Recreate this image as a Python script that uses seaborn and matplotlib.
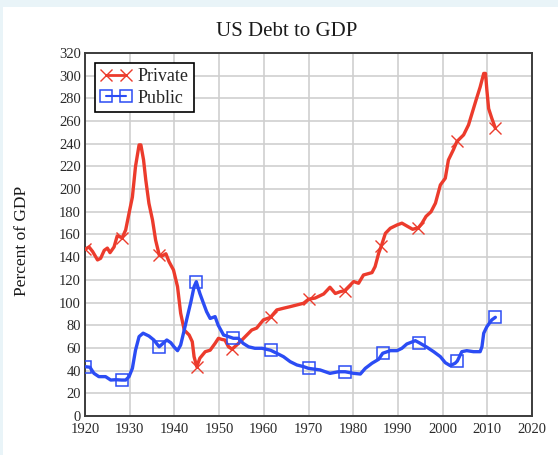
import numpy as np
import matplotlib
matplotlib.use("Agg")
import matplotlib.pyplot as plt
from matplotlib.lines import Line2D
from matplotlib.patches import Rectangle
import seaborn as sns

# ---------------- data ----------------
private_years = [1920, 1920.9, 1921.7, 1922.8, 1923.5, 1924.3, 1925, 1925.6, 1926.5, 1927.2,
                 1927.8, 1928.3, 1929.1, 1929.85, 1930.6, 1931.3, 1932.1, 1932.5, 1933.1, 1933.6,
                 1934.3, 1935.1, 1935.8, 1936.6, 1937.2, 1938.1, 1938.8, 1939.8, 1940.7, 1941.4,
                 1942.2, 1943.3, 1944, 1944.4, 1945, 1945.7, 1946.9, 1948, 1949.1, 1949.85,
                 1950.6, 1951.3, 1952.1, 1952.9, 1953.95, 1955.1, 1956.2, 1957.3, 1958.4, 1959.9,
                 1961.5, 1962.9, 1964.4, 1965.9, 1967.4, 1968.9, 1970, 1971.5, 1973.4, 1974.8,
                 1976, 1977.1, 1978.1, 1980.1, 1981.2, 1982.3, 1984.2, 1984.9, 1985.7, 1986.3,
                 1987.2, 1988.3, 1989.8, 1990.9, 1992, 1993.3, 1994.6, 1995.4, 1996.3, 1997.4,
                 1998.4, 1999.5, 2000.6, 2001.3, 2002.4, 2003.2, 2004.7, 2005.8, 2006.6, 2007.5,
                 2008.4, 2009.2, 2009.6, 2009.9, 2010.3, 2011, 2011.8]
private_values = [147, 149, 145, 137.6, 139, 146, 148, 144, 149, 158.7,
                  158, 157, 164, 178.7, 193, 220, 239, 239, 225.7, 208,
                  187.5, 172.8, 155, 142, 141, 143, 136, 128.7, 114, 90.6,
                  75.8, 71.4, 65.5, 52.3, 43.5, 51, 56.7, 58, 64, 68.5,
                  67.5, 67, 61, 59, 62.6, 67, 71.4, 75.8, 77.5, 84.7,
                  87.0, 93.5, 95, 96.4, 97.9, 99.4, 102.9, 104, 107.6, 113.5,
                  108, 109.6, 110.5, 118.5, 117, 124.3, 126.4, 131.7, 143.5, 150,
                  161, 165.5, 168.4, 170, 167.5, 164.6, 166, 170, 176, 180,
                  187.6, 203.7, 209.6, 225.7, 234.6, 242, 247.8, 256.6, 267, 278.7,
                  290, 302, 302, 287.5, 271, 262.5, 253.7]

public_years = [1920, 1921.1, 1922, 1923.1, 1924.6, 1925.75, 1926.9, 1928.2, 1929.1, 1929.85,
                1930.6, 1931.3, 1932.1, 1933, 1934.3, 1935.4, 1936.6, 1937.3, 1938.3, 1939.2,
                1939.9, 1940.7, 1941.4, 1942.2, 1942.9, 1943.7, 1944.4, 1944.9, 1945.7, 1946.5,
                1947.2, 1948, 1949.1, 1949.8, 1951, 1952.1, 1953.2, 1954.3, 1955.4, 1956.6,
                1958, 1959.6, 1961.5, 1962.9, 1964.4, 1965.9, 1967.4, 1968.9, 1970, 1972.6,
                1974.8, 1976.7, 1978.2, 1980.1, 1981.6, 1982.7, 1984.2, 1985.7, 1986.6, 1988.3,
                1989.8, 1990.9, 1992, 1993.9, 1994.8, 1996.5, 1998, 1999.5, 2000.6, 2001.7,
                2002.8, 2003.3, 2004.3, 2005.4, 2006.9, 2008.4, 2008.8, 2009.2, 2009.9, 2011,
                2011.8]
public_values = [43.5, 43, 37.6, 34.7, 34.7, 31.7, 32, 31.7, 31.7, 34.7,
                 42, 58, 70, 73, 70.5, 67, 61, 63.5, 67, 64.6,
                 61, 57.6, 62.6, 75.8, 87.6, 100.8, 114, 118.4, 108, 99.4,
                 92, 86, 87.6, 80, 71.4, 70, 68.5, 68.5, 64, 61,
                 59.7, 59.7, 58, 55.3, 52.3, 47.9, 45, 43.5, 42, 40.6,
                 37.6, 39, 39, 37.6, 37, 42, 46.5, 50, 55.3, 57.6,
                 57.6, 59.7, 63.5, 66.4, 64.5, 60.6, 56.7, 52.3, 47, 44.4,
                 46.5, 48.5, 56.7, 57.6, 56.7, 56.7, 61, 73, 78.7, 84.7,
                 87]

series_labels = ["Private", "Public"]
x_ticks = list(range(1920, 2021, 10))
y_ticks = list(range(0, 321, 20))

# marker positions (years at which markers are drawn)
marker_years = [1920, 1928.2, 1936.6, 1945, 1953.1, 1961.5, 1970, 1978.2, 1986.4, 1994.7, 2003.2, 2011.8]

RED = "#ec3b2c"
BLUE = "#2b4cf4"

sns.set_theme(style="white")
plt.rcParams["font.family"] = ["Liberation Serif", "DejaVu Serif"]

fig = plt.figure(figsize=(5.58, 4.55), dpi=100)
fig.patch.set_facecolor("white")
# light frame strips of the reference screenshot
fig.patches.append(Rectangle((0, 1 - 7 / 455), 1, 7 / 455, transform=fig.transFigure,
                             facecolor="#e9f4f8", edgecolor="none", zorder=0))
fig.patches.append(Rectangle((0, 0), 3 / 558, 1, transform=fig.transFigure,
                             facecolor="#e9f4f8", edgecolor="none", zorder=0))

ax = fig.add_axes([85 / 558, (455 - 416) / 455, 447 / 558, 363 / 455])


def idx_for(years, targets):
    arr = np.asarray(years)
    return [int(np.argmin(np.abs(arr - t))) for t in targets]


sns.lineplot(x=private_years, y=private_values, ax=ax, color=RED, linewidth=2.4,
             marker="x", markersize=9, markeredgewidth=1.0, markeredgecolor=RED,
             markevery=idx_for(private_years, marker_years), sort=False,
             estimator=None, zorder=3)
sns.lineplot(x=public_years, y=public_values, ax=ax, color=BLUE, linewidth=2.4,
             marker="s", markersize=9, markeredgewidth=1.1, markeredgecolor=BLUE,
             markerfacecolor="none", fillstyle="none",
             markevery=idx_for(public_years, marker_years), sort=False,
             estimator=None, zorder=3)

ax.set_xlim(1920, 2020)
ax.set_ylim(0, 320)
ax.set_xticks(x_ticks)
ax.set_yticks(y_ticks)
ax.set_xticklabels([str(t) for t in x_ticks])
ax.set_yticklabels([str(t) for t in y_ticks])
ax.tick_params(axis="both", length=0, labelsize=10.5, colors="#2a2a2a")
ax.tick_params(axis="x", pad=5)
ax.tick_params(axis="y", pad=3)
ax.grid(True, color="#cfcfcf", linewidth=1.2)
ax.set_axisbelow(True)
for s in ax.spines.values():
    s.set_visible(True)
    s.set_color("#3c3c3c")
    s.set_linewidth(1.4)
ax.set_xlabel("")
ax.set_ylabel("")

handles = [
    Line2D([0, 1], [0, 1], color=RED, linewidth=2.0, marker="x", markersize=9,
           markeredgewidth=1.0),
    Line2D([0, 1], [0, 1], color=BLUE, linewidth=1.5, marker="s", markersize=8,
           markeredgewidth=1.1, markerfacecolor="none"),
]
leg = ax.legend(handles, series_labels, loc="upper left", bbox_to_anchor=(0.022, 0.973),
                borderaxespad=0, frameon=True, fancybox=False, framealpha=1,
                edgecolor="black", fontsize=13, numpoints=2, handlelength=1.75,
                handletextpad=0.3, labelspacing=0.25, borderpad=0.3)
leg.get_frame().set_linewidth(1.2)

fig.text(287 / 558, 1 - 31 / 455, "US Debt to GDP", ha="center", va="center",
         fontsize=15, color="#1a1a1a")
fig.text(22 / 558, 1 - 241 / 455, "Percent of GDP", ha="center", va="center",
         rotation=90, fontsize=12.5, color="#1a1a1a")

fig.savefig("out.png", dpi=100)
